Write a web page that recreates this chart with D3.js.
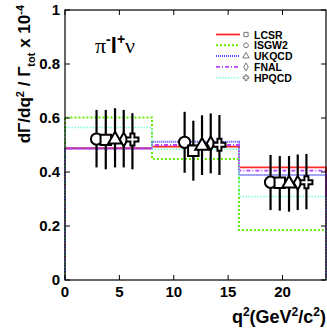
<!DOCTYPE html>
<html>
<head>
<meta charset="utf-8">
<script src="https://cdn.jsdelivr.net/npm/d3@7"></script>
<style>
  html, body { margin: 0; padding: 0; background: #fff; }
  svg { display: block; font-family: "Liberation Sans", Arial, sans-serif; }
</style>
</head>
<body>
<svg id="chart" width="327" height="328"></svg>
<script>
// model curves (histograms over q2 bins)
const binEdges = [0, 8, 16, 24];
const modelNames = ['LCSR', 'ISGW2', 'UKQCD', 'FNAL', 'HPQCD'];
const lcsrVals = [0.488, 0.494, 0.417];
const isgw2Vals = [0.602, 0.448, 0.185];
const ukqcdVals = [0.487, 0.512, 0.389];
const fnalVals = [0.487, 0.500, 0.405];
const hpqcdVals = [0.565, 0.484, 0.309];

// measured points, one set per model (marker order: circle, square, triangle, diamond, cross)
const circleQ2 = [2.9, 11.0, 18.9];
const circleY = [0.522, 0.510, 0.362];
const circleHi = [0.630, 0.623, 0.463];
const circleLo = [0.417, 0.397, 0.259];

const squareQ2 = [3.75, 11.8, 19.75];
const squareY = [0.519, 0.479, 0.360];
const squareHi = [0.630, 0.590, 0.459];
const squareLo = [0.410, 0.368, 0.257];

const triangleQ2 = [4.6, 12.6, 20.6];
const triangleY = [0.520, 0.497, 0.357];
const triangleHi = [0.636, 0.610, 0.459];
const triangleLo = [0.417, 0.389, 0.253];

const diamondQ2 = [5.4, 13.4, 21.4];
const diamondY = [0.520, 0.506, 0.360];
const diamondHi = [0.630, 0.617, 0.465];
const diamondLo = [0.417, 0.395, 0.259];

const crossQ2 = [6.2, 14.2, 22.2];
const crossY = [0.520, 0.501, 0.362];
const crossHi = [0.618, 0.611, 0.467];
const crossLo = [0.410, 0.389, 0.262];

const xTicks = [0, 5, 10, 15, 20];
const yTicks = [0, 0.2, 0.4, 0.6, 0.8, 1];

const svg = d3.select('#chart');
const margin = { left: 65, right: 1, top: 10, bottom: 48 };
const W = 327, H = 328;

const x = d3.scaleLinear().domain([0, 24]).range([margin.left, W - margin.right]);
const y = d3.scaleLinear().domain([0, 1]).range([H - margin.bottom, margin.top]);

const models = [
  { name: modelNames[0], vals: lcsrVals, color: '#ff2a2a', dash: null, width: 1.8, symbol: d3.symbolSquare },
  { name: modelNames[1], vals: isgw2Vals, color: '#66ee00', dash: '2,2', width: 2, symbol: d3.symbolCircle },
  { name: modelNames[2], vals: ukqcdVals, color: '#4a4aff', dash: '1,1', width: 2, symbol: d3.symbolTriangle },
  { name: modelNames[3], vals: fnalVals, color: '#c040ff', dash: '4,2,1,2', width: 1.8, symbol: d3.symbolDiamond },
  { name: modelNames[4], vals: hpqcdVals, color: '#7affd8', dash: '1.5,1.5', width: 1.5, symbol: d3.symbolCross },
];

const points = [
  { q2: circleQ2, v: circleY, hi: circleHi, lo: circleLo, symbol: d3.symbolCircle, size: 100 },
  { q2: squareQ2, v: squareY, hi: squareHi, lo: squareLo, symbol: d3.symbolSquare, size: 110 },
  { q2: triangleQ2, v: triangleY, hi: triangleHi, lo: triangleLo, symbol: d3.symbolTriangle, size: 80 },
  { q2: diamondQ2, v: diamondY, hi: diamondHi, lo: diamondLo, symbol: d3.symbolDiamond, size: 55 },
  { q2: crossQ2, v: crossY, hi: crossHi, lo: crossLo, symbol: d3.symbolCross, size: 80 },
];

const plot = svg.append('g');

// histogram outlines
models.forEach((m) => {
  const pts = [[binEdges[0], 0]];
  m.vals.forEach((v, i) => {
    pts.push([binEdges[i], v]);
    pts.push([binEdges[i + 1], v]);
  });
  pts.push([binEdges[binEdges.length - 1], 0]);
  plot.append('path')
    .attr('d', d3.line().x((d) => x(d[0])).y((d) => y(d[1]))(pts))
    .attr('fill', 'none')
    .attr('stroke', m.color)
    .attr('stroke-width', m.width)
    .attr('stroke-dasharray', m.dash);
});

// error bars and markers
points.forEach((p) => {
  p.q2.forEach((q, i) => {
    plot.append('line')
      .attr('x1', x(q)).attr('x2', x(q))
      .attr('y1', y(p.hi[i])).attr('y2', y(p.lo[i]))
      .attr('stroke', '#000')
      .attr('stroke-width', 2.2);
  });
});
points.forEach((p) => {
  p.q2.forEach((q, i) => {
    plot.append('path')
      .attr('d', d3.symbol().type(p.symbol).size(p.size)())
      .attr('transform', `translate(${x(q)},${y(p.v[i])})`)
      .attr('fill', '#fff')
      .attr('stroke', '#000')
      .attr('stroke-width', 2);
  });
});

// frame
svg.append('rect')
  .attr('x', x(0)).attr('y', y(1))
  .attr('width', x(24) - x(0)).attr('height', y(0) - y(1))
  .attr('fill', 'none').attr('stroke', '#000').attr('stroke-width', 1.2);

// ticks (inside, all four sides)
const tl = 5;
xTicks.forEach((t) => {
  svg.append('line').attr('x1', x(t)).attr('x2', x(t)).attr('y1', y(0)).attr('y2', y(0) - tl).attr('stroke', '#000');
  svg.append('line').attr('x1', x(t)).attr('x2', x(t)).attr('y1', y(1)).attr('y2', y(1) + tl).attr('stroke', '#000');
});
yTicks.forEach((t) => {
  svg.append('line').attr('x1', x(0)).attr('x2', x(0) + tl).attr('y1', y(t)).attr('y2', y(t)).attr('stroke', '#000');
  svg.append('line').attr('x1', x(24)).attr('x2', x(24) - tl).attr('y1', y(t)).attr('y2', y(t)).attr('stroke', '#000');
});

// tick labels
svg.selectAll('text.xt').data(xTicks).enter().append('text')
  .attr('class', 'xt')
  .attr('x', (d) => x(d)).attr('y', y(0) + 17)
  .attr('text-anchor', 'middle')
  .attr('font-size', 15).attr('font-weight', 'bold')
  .text((d) => d);
svg.selectAll('text.yt').data(yTicks).enter().append('text')
  .attr('class', 'yt')
  .attr('x', x(0) - 5).attr('y', (d) => y(d) + 5)
  .attr('text-anchor', 'end')
  .attr('font-size', 15).attr('font-weight', 'bold')
  .text((d) => d);

// axis titles
const xt = svg.append('text')
  .attr('x', W - 1).attr('y', 323)
  .attr('text-anchor', 'end')
  .attr('font-size', 18).attr('font-weight', 'bold');
xt.append('tspan').text('q');
xt.append('tspan').attr('dy', -7).attr('font-size', 12).text('2');
xt.append('tspan').attr('dy', 7).text('(GeV');
xt.append('tspan').attr('dy', -7).attr('font-size', 12).text('2');
xt.append('tspan').attr('dy', 7).text('/c');
xt.append('tspan').attr('dy', -7).attr('font-size', 12).text('2');
xt.append('tspan').attr('dy', 7).text(')');

const yt = svg.append('text')
  .attr('transform', 'translate(30,5) rotate(-90)')
  .attr('text-anchor', 'end')
  .attr('font-size', 17).attr('font-weight', 'bold');
yt.append('tspan').text('dΓ/dq');
yt.append('tspan').attr('dy', -6).attr('font-size', 11).text('2');
yt.append('tspan').attr('dy', 6).text(' / Γ');
yt.append('tspan').attr('dy', 5).attr('font-size', 11).text('tot');
yt.append('tspan').attr('dy', -5).text(' x 10');
yt.append('tspan').attr('dy', -6).attr('font-size', 11).text('-4');

// process label
const title = svg.append('text')
  .attr('x', 95).attr('y', 53)
  .attr('font-size', 22)
  .attr('font-family', '"Liberation Serif", "DejaVu Serif", serif');
title.append('tspan').text('π');
title.append('tspan').attr('dy', -9).attr('font-size', 14).attr('font-weight', 'bold').attr('font-family', '"Liberation Sans", Arial, sans-serif').text('-');
title.append('tspan').attr('dy', 9).attr('font-weight', 'bold').attr('font-family', '"Liberation Sans", Arial, sans-serif').text('l');
title.append('tspan').attr('dy', -9).attr('font-size', 14).attr('font-weight', 'bold').attr('font-family', '"Liberation Sans", Arial, sans-serif').text('+');
title.append('tspan').attr('dy', 9).text('ν');

// legend
const legend = svg.append('g');
models.forEach((m, i) => {
  const ly = 34.5 + i * 10.8;
  legend.append('line')
    .attr('x1', 216).attr('x2', 240).attr('y1', ly).attr('y2', ly)
    .attr('stroke', m.color).attr('stroke-width', m.width).attr('stroke-dasharray', m.dash);
  legend.append('path')
    .attr('d', d3.symbol().type(m.symbol).size(18)())
    .attr('transform', `translate(246,${ly})`)
    .attr('fill', '#fff').attr('stroke', '#777').attr('stroke-width', 1);
  legend.append('text')
    .attr('x', 254).attr('y', ly + 4)
    .attr('font-size', 10.5).attr('font-weight', 'bold')
    .text(m.name);
});
</script>
</body>
</html>
